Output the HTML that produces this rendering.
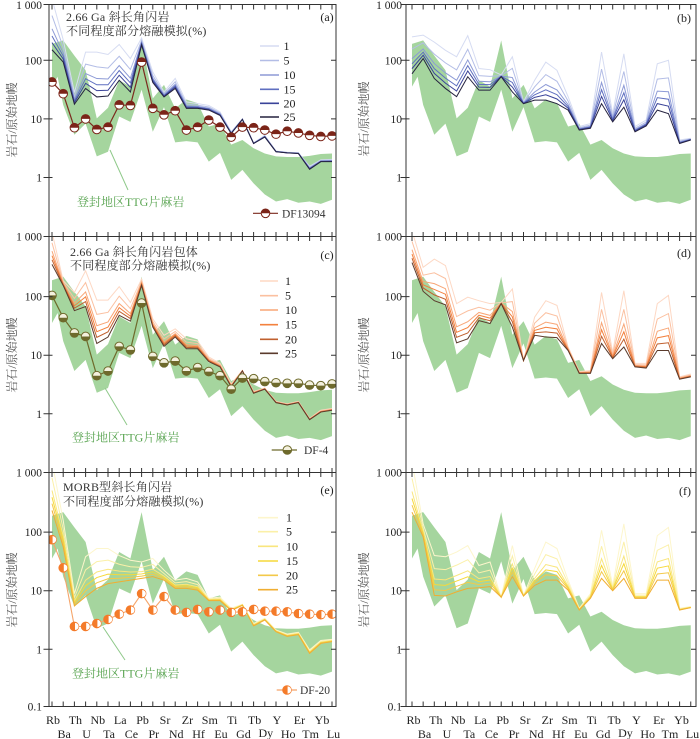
<!DOCTYPE html>
<html><head><meta charset="utf-8">
<style>
html,body{margin:0;padding:0;background:#fff;}
svg{display:block;}
text{font-family:"Liberation Serif","Noto Serif CJK SC",serif;fill:#222;}
.t{font-size:11.5px;}
.x{font-size:12px;text-anchor:middle;}
.ttl{font-size:12px;fill:#333;letter-spacing:0.2px;}
.yl{font-size:12px;fill:#555;text-anchor:middle;}
.lg{font-size:12px;fill:#333;}
.ttg{font-size:12px;fill:#5aa552;}
.ln{fill:none;vector-effect:non-scaling-stroke;}
</style></head><body>
<svg width="700" height="739" viewBox="0 0 700 739" xmlns="http://www.w3.org/2000/svg">
<defs>
<clipPath id="cA"><rect x="49" y="4.5" width="287" height="232"/></clipPath>
<clipPath id="cC"><rect x="49" y="236.5" width="287" height="236"/></clipPath>
<clipPath id="cE"><rect x="49" y="472.5" width="287" height="234"/></clipPath>
<clipPath id="cB"><rect x="406" y="4.5" width="290" height="232"/></clipPath>
<clipPath id="cD"><rect x="406" y="236.5" width="290" height="236"/></clipPath>
<clipPath id="cF"><rect x="406" y="472.5" width="290" height="234"/></clipPath>
<polygon id="band" fill="#a5d59e" points="0,2.28 1,2.34 2,2.08 3,1.83 4,1.01 5,1.19 6,1.66 7,1.55 8,2.34 9,1.35 10,1.58 11,1.18 12,1.33 13,1.27 14,0.87 15,0.92 16,0.56 17,0.64 18,0.50 19,0.41 20,0.36 21,0.35 22,0.35 23,0.37 24,0.40 25,0.41 25,-0.38 24,-0.45 23,-0.41 22,-0.43 21,-0.37 20,-0.41 19,-0.29 18,-0.1 17,0.13 16,-0.04 15,0.42 14,0.27 13,0.6 12,0.62 11,0.6 10,1.2 9,0.78 8,1.5 7,0.95 6,1.04 5,0.44 4,0.36 3,0.92 2,0.73 1,1.24 0.5,1.72 0,1.55"/>
<g id="pA"><circle r="4.3" fill="#fff" stroke="#7b2418" stroke-width="1"/><path d="M-4.3,0A4.3,4.3 0 0 1 4.3,0Z" fill="#7b2418"/></g>
<g id="pC"><circle r="4.3" fill="#f4f1de" stroke="#6e6a2c" stroke-width="1"/><path d="M-4.3,0A4.3,4.3 0 0 0 4.3,0Z" fill="#6e6a2c"/></g>
<g id="pE"><circle r="4.3" fill="#f47b2a" stroke="#f47b2a" stroke-width="1"/><path d="M0.6,-3.6A3.6,3.6 0 0 1 0.6,3.6Z" fill="#fff"/></g>
<g id="mA" transform="scale(0.0892857,-0.0170648)"><use href="#pA"/></g>
<g id="mC" transform="scale(0.0892857,-0.0170648)"><use href="#pC"/></g>
<g id="mE" transform="scale(0.0892857,-0.0170648)"><use href="#pE"/></g>
</defs>

<!-- ===== Panel a ===== -->
<g clip-path="url(#cA)"><g transform="translate(52,177.5) scale(11.2,-58.6)">
<use href="#band"/>
<polyline id="a1" class="ln" stroke="#d6dcf2" stroke-width="1" points="0,3.05 1,2.35 2,1.45 3,2.14 4,2.14 5,2.10 6,2.27 7,2.03 8,2.38 9,1.80 10,1.46 11,1.69 12,1.29 13,1.26 14,1.23 15,1.12 16,0.78 17,1.0 18,0.59 19,0.72 20,0.45 21,0.43 22,0.42 23,0.19 24,0.3 25,0.31"/>
<polyline id="a25" class="ln" stroke="#25223f" stroke-width="1" points="0,2.18 1,1.97 2,1.25 3,1.52 4,1.375 5,1.39 6,1.66 7,1.46 8,2.26 9,1.62 10,1.375 11,1.52 12,1.18 13,1.18 14,1.15 15,1.06 16,0.75 17,0.99 18,0.58 19,0.69 20,0.44 21,0.42 22,0.41 23,0.14 24,0.27 25,0.27"/>
<polyline class="ln" stroke="#7b2a1e" stroke-width="1.2" points="0,1.63 1,1.43 2,0.85 3,1.0 4,0.82 5,0.86 6,1.24 7,1.23 8,1.97 9,1.18 10,1.07 11,1.14 12,0.81 13,0.86 14,0.98 15,0.86 16,0.69 17,0.86 18,0.85 19,0.81 20,0.74 21,0.79 22,0.76 23,0.72 24,0.70 25,0.71"/>
<use href="#mA" x="0" y="1.63"/><use href="#mA" x="1" y="1.43"/><use href="#mA" x="2" y="0.85"/><use href="#mA" x="3" y="1.0"/><use href="#mA" x="4" y="0.82"/><use href="#mA" x="5" y="0.86"/><use href="#mA" x="6" y="1.24"/><use href="#mA" x="7" y="1.23"/><use href="#mA" x="8" y="1.97"/><use href="#mA" x="9" y="1.18"/><use href="#mA" x="10" y="1.07"/><use href="#mA" x="11" y="1.14"/><use href="#mA" x="12" y="0.81"/><use href="#mA" x="13" y="0.86"/><use href="#mA" x="14" y="0.98"/><use href="#mA" x="15" y="0.86"/><use href="#mA" x="16" y="0.69"/><use href="#mA" x="17" y="0.86"/><use href="#mA" x="18" y="0.85"/><use href="#mA" x="19" y="0.81"/><use href="#mA" x="20" y="0.74"/><use href="#mA" x="21" y="0.79"/><use href="#mA" x="22" y="0.76"/><use href="#mA" x="23" y="0.72"/><use href="#mA" x="24" y="0.70"/><use href="#mA" x="25" y="0.71"/>
</g></g>

<!-- ===== Panel c ===== -->
<g clip-path="url(#cC)"><g transform="translate(52,413.8) scale(11.2,-58.6)">
<use href="#band"/>
<polyline id="c1" class="ln" stroke="#fdd8c4" stroke-width="1" points="0,3.1 1,2.27 2,2.07 3,2.44 4,1.94 5,1.94 6,2.17 7,1.9 8,2.3 9,1.62 10,1.34 11,1.45 12,1.28 13,1.24 14,0.97 15,0.86 16,0.51 17,0.74 18,0.38 19,0.44 20,0.21 21,0.17 22,0.21 23,-0.08 24,0.06 25,0.09"/>
<polyline id="c25" class="ln" stroke="#5b3b2c" stroke-width="1" points="0,2.55 1,2.19 2,1.76 3,1.83 4,1.2 5,1.31 6,1.68 7,1.58 8,2.19 9,1.48 10,1.15 11,1.31 12,1.11 13,1.11 14,0.89 15,0.8 16,0.46 17,0.73 18,0.35 19,0.42 20,0.19 21,0.15 22,0.19 23,-0.1 24,0.03 25,0.06"/>
<polyline class="ln" stroke="#6e6a2c" stroke-width="1.2" points="0,2.02 1,1.64 2,1.38 3,1.32 4,0.65 5,0.73 6,1.15 7,1.09 8,1.89 9,0.98 10,0.87 11,0.9 12,0.73 13,0.79 14,0.72 15,0.65 16,0.42 17,0.61 18,0.6 19,0.55 20,0.53 21,0.52 22,0.52 23,0.49 24,0.48 25,0.51"/>
<use href="#mC" x="0" y="2.02"/><use href="#mC" x="1" y="1.64"/><use href="#mC" x="2" y="1.38"/><use href="#mC" x="3" y="1.32"/><use href="#mC" x="4" y="0.65"/><use href="#mC" x="5" y="0.73"/><use href="#mC" x="6" y="1.15"/><use href="#mC" x="7" y="1.09"/><use href="#mC" x="8" y="1.89"/><use href="#mC" x="9" y="0.98"/><use href="#mC" x="10" y="0.87"/><use href="#mC" x="11" y="0.9"/><use href="#mC" x="12" y="0.73"/><use href="#mC" x="13" y="0.79"/><use href="#mC" x="14" y="0.72"/><use href="#mC" x="15" y="0.65"/><use href="#mC" x="16" y="0.42"/><use href="#mC" x="17" y="0.61"/><use href="#mC" x="18" y="0.6"/><use href="#mC" x="19" y="0.55"/><use href="#mC" x="20" y="0.53"/><use href="#mC" x="21" y="0.52"/><use href="#mC" x="22" y="0.52"/><use href="#mC" x="23" y="0.49"/><use href="#mC" x="24" y="0.48"/><use href="#mC" x="25" y="0.51"/>
</g></g>

<!-- ===== Panel e ===== -->
<g clip-path="url(#cE)"><g transform="translate(52,649.3) scale(11.2,-58.6)">
<use href="#band"/>
<polyline id="e1" class="ln" stroke="#fdf6cc" stroke-width="1" points="0,3.2 1,2.2 2,0.95 3,1.58 4,1.72 5,1.72 6,1.6 7,1.52 8,1.49 9,1.55 10,1.35 11,1.18 12,1.21 13,1.15 14,0.87 15,0.89 16,0.7 17,0.77 18,0.44 19,0.53 20,0.33 21,0.26 22,0.29 23,-0.01 24,0.15 25,0.17"/>
<polyline id="e25" class="ln" stroke="#f0ae32" stroke-width="1" points="0,2.37 1,1.75 2,0.74 3,0.9 4,1.04 5,1.12 6,1.15 7,1.18 8,1.21 9,1.24 10,1.18 11,1.04 12,1.04 13,1.01 14,0.83 15,0.83 16,0.66 17,0.75 18,0.4 19,0.5 20,0.3 21,0.22 22,0.25 23,-0.07 24,0.1 25,0.13"/>
<polyline class="ln" stroke="#f5a56a" stroke-width="1.1" points="0,1.87 1,1.39 2,0.39 3,0.39 4,0.44 5,0.51 6,0.60 7,0.67 8,0.95 9,0.67 10,0.9 11,0.67 12,0.63 13,0.68 14,0.64 15,0.67 16,0.63 17,0.64 18,0.68 19,0.65 20,0.65 21,0.64 22,0.61 23,0.60 24,0.59 25,0.60"/>
<use href="#mE" x="0" y="1.87"/><use href="#mE" x="1" y="1.39"/><use href="#mE" x="2" y="0.39"/><use href="#mE" x="3" y="0.39"/><use href="#mE" x="4" y="0.44"/><use href="#mE" x="5" y="0.51"/><use href="#mE" x="6" y="0.60"/><use href="#mE" x="7" y="0.67"/><use href="#mE" x="8" y="0.95"/><use href="#mE" x="9" y="0.67"/><use href="#mE" x="10" y="0.9"/><use href="#mE" x="11" y="0.67"/><use href="#mE" x="12" y="0.63"/><use href="#mE" x="13" y="0.68"/><use href="#mE" x="14" y="0.64"/><use href="#mE" x="15" y="0.67"/><use href="#mE" x="16" y="0.63"/><use href="#mE" x="17" y="0.64"/><use href="#mE" x="18" y="0.68"/><use href="#mE" x="19" y="0.65"/><use href="#mE" x="20" y="0.65"/><use href="#mE" x="21" y="0.64"/><use href="#mE" x="22" y="0.61"/><use href="#mE" x="23" y="0.60"/><use href="#mE" x="24" y="0.59"/><use href="#mE" x="25" y="0.60"/>
</g></g>

<!-- ===== Panel b ===== -->
<g clip-path="url(#cB)"><g transform="translate(412,177.5) scale(11.15,-58.6)">
<use href="#band"/>
<polyline id="b1" class="ln" stroke="#d6dcf2" stroke-width="1" points="0,2.4 1,2.43 2,2.31 3,2.17 4,2.06 5,2.42 6,1.86 7,1.84 8,1.75 9,2.06 10,1.29 11,1.66 12,1.97 13,1.83 14,1.38 15,0.87 16,0.92 17,2.14 18,1.09 19,2.11 20,0.87 21,0.98 22,1.94 23,2.0 24,0.64 25,0.67"/>
<polyline id="b25" class="ln" stroke="#25223f" stroke-width="1" points="0,1.77 1,2.03 2,1.69 3,1.52 4,1.38 5,1.72 6,1.49 7,1.49 8,1.72 9,1.46 10,1.26 11,1.32 12,1.32 13,1.26 14,1.15 15,0.81 16,0.84 17,1.26 18,0.95 19,1.2 20,0.78 21,0.88 22,1.15 23,1.09 24,0.58 25,0.64"/>
</g></g>

<!-- ===== Panel d ===== -->
<g clip-path="url(#cD)"><g transform="translate(412,413.8) scale(11.15,-58.6)">
<use href="#band"/>
<polyline id="d1" class="ln" stroke="#fdd8c4" stroke-width="1" points="0,3.12 1,2.5 2,2.64 3,2.53 4,1.88 5,1.99 6,1.93 7,1.88 8,1.9 9,2.13 10,0.91 11,1.65 12,1.93 13,1.85 14,1.14 15,0.72 16,0.74 17,2.07 18,1.05 19,2.1 20,0.86 21,0.86 22,1.88 23,2.02 24,0.63 25,0.68"/>
<polyline id="d25" class="ln" stroke="#5b3b2c" stroke-width="1" points="0,2.58 1,2.09 2,1.93 3,1.86 4,1.21 5,1.28 6,1.59 7,1.54 8,1.88 9,1.48 10,0.91 11,1.34 12,1.31 13,1.30 14,1.08 15,0.69 16,0.69 17,1.2 18,0.94 19,1.14 20,0.8 21,0.78 22,1.08 23,1.08 24,0.59 25,0.63"/>
</g></g>

<!-- ===== Panel f ===== -->
<g clip-path="url(#cF)"><g transform="translate(412,649.3) scale(11.15,-58.6)">
<use href="#band"/>
<polyline id="f1" class="ln" stroke="#fdf6cc" stroke-width="1" points="0,3.2 1,2.14 2,1.6 3,1.58 4,1.66 5,1.77 6,1.43 7,1.49 8,0.89 9,1.77 10,0.92 11,1.38 12,1.83 13,1.72 14,1.18 15,0.7 16,0.95 17,2.03 18,1.09 19,2.14 20,0.95 21,0.95 22,1.94 23,2.08 24,0.7 25,0.73"/>
<polyline id="f25" class="ln" stroke="#f0ae32" stroke-width="1" points="0,2.34 1,1.92 2,0.92 3,0.91 4,0.98 5,1.04 6,1.05 7,1.07 8,0.89 9,1.24 10,0.91 11,1.09 12,1.18 13,1.18 14,1.01 15,0.67 16,0.87 17,1.21 18,1.0 19,1.21 20,0.87 21,0.87 22,1.18 23,1.18 24,0.67 25,0.71"/>
</g></g>

<!-- ===== Frames ===== -->
<g fill="none" stroke="#333" stroke-width="1">
<rect x="49" y="4.5" width="287" height="702"/>
<line x1="49" y1="236.5" x2="336" y2="236.5"/>
<line x1="49" y1="472.5" x2="336" y2="472.5"/>
<rect x="406" y="4.5" width="290" height="702"/>
<line x1="406" y1="236.5" x2="696" y2="236.5"/>
<line x1="406" y1="472.5" x2="696" y2="472.5"/>
</g>
<!-- x ticks -->
<g stroke="#333" fill="none">
<line x1="51.5" y1="7" x2="332.6" y2="7" stroke-width="5" stroke-dasharray="1 10.2"/>
<line x1="51.5" y1="236.5" x2="332.6" y2="236.5" stroke-width="9" stroke-dasharray="1 10.2"/>
<line x1="51.5" y1="472.5" x2="332.6" y2="472.5" stroke-width="9" stroke-dasharray="1 10.2"/>
<line x1="51.5" y1="704" x2="332.6" y2="704" stroke-width="5" stroke-dasharray="1 10.2"/>
<line x1="411.5" y1="7" x2="691.3" y2="7" stroke-width="5" stroke-dasharray="1 10.15"/>
<line x1="411.5" y1="236.5" x2="691.3" y2="236.5" stroke-width="9" stroke-dasharray="1 10.15"/>
<line x1="411.5" y1="472.5" x2="691.3" y2="472.5" stroke-width="9" stroke-dasharray="1 10.15"/>
<line x1="411.5" y1="704" x2="691.3" y2="704" stroke-width="5" stroke-dasharray="1 10.15"/>
</g>
<!-- y ticks -->
<g stroke="#333" stroke-width="1">
<path d="M43.5,4.5H52.5M43.5,60.3H52.5M43.5,118.9H52.5M43.5,177.5H52.5M43.5,236.5H52.5M43.5,296.6H52.5M43.5,355.2H52.5M43.5,413.8H52.5M43.5,472.5H52.5M43.5,532.1H52.5M43.5,590.7H52.5M43.5,649.3H52.5M43.5,706.5H52.5"/>
<path d="M331,60.3H336M331,118.9H336M331,177.5H336M331,296.6H336M331,355.2H336M331,413.8H336M331,532.1H336M331,590.7H336M331,649.3H336"/>
<path d="M400.5,4.5H409.5M400.5,60.3H409.5M400.5,118.9H409.5M400.5,177.5H409.5M400.5,236.5H409.5M400.5,296.6H409.5M400.5,355.2H409.5M400.5,413.8H409.5M400.5,472.5H409.5M400.5,532.1H409.5M400.5,590.7H409.5M400.5,649.3H409.5M400.5,706.5H409.5"/>
<path d="M691,60.3H696M691,118.9H696M691,177.5H696M691,296.6H696M691,355.2H696M691,413.8H696M691,532.1H696M691,590.7H696M691,649.3H696"/>
</g>
<!-- y tick labels -->
<g class="t" text-anchor="end">
<text x="42" y="9">1 000</text><text x="42" y="64.5">100</text><text x="42" y="123">10</text><text x="42" y="181.5">1</text>
<text x="42" y="240.5">1 000</text><text x="42" y="300.6">100</text><text x="42" y="359.2">10</text><text x="42" y="417.8">1</text>
<text x="42" y="476.5">1 000</text><text x="42" y="536">100</text><text x="42" y="594.7">10</text><text x="42" y="653.3">1</text><text x="42" y="710.5">0.1</text>
<text x="402" y="9">1 000</text><text x="402" y="64.5">100</text><text x="402" y="123">10</text><text x="402" y="181.5">1</text>
<text x="402" y="240.5">1 000</text><text x="402" y="300.6">100</text><text x="402" y="359.2">10</text><text x="402" y="417.8">1</text>
<text x="402" y="476.5">1 000</text><text x="402" y="536">100</text><text x="402" y="594.7">10</text><text x="402" y="653.3">1</text><text x="402" y="710.5">0.1</text>
</g>
<!-- y axis titles -->
<text class="yl" transform="translate(16,120) rotate(-90)">岩石/原始地幔</text>
<text class="yl" transform="translate(16,355) rotate(-90)">岩石/原始地幔</text>
<text class="yl" transform="translate(16,590) rotate(-90)">岩石/原始地幔</text>
<text class="yl" transform="translate(368,119) rotate(-90)">岩石/原始地幔</text>
<text class="yl" transform="translate(368,355) rotate(-90)">岩石/原始地幔</text>
<text class="yl" transform="translate(368,590) rotate(-90)">岩石/原始地幔</text>

<!-- x labels left -->
<g class="x">
<text x="53" y="724">Rb</text><text x="64.2" y="738">Ba</text><text x="75.4" y="724">Th</text><text x="86.6" y="738">U</text><text x="97.8" y="724">Nb</text><text x="109" y="738">Ta</text><text x="120.2" y="724">La</text><text x="131.4" y="738">Ce</text><text x="142.6" y="724">Pb</text><text x="153.8" y="738">Pr</text><text x="165" y="724">Sr</text><text x="176.2" y="738">Nd</text><text x="187.4" y="724">Zr</text><text x="198.6" y="738">Hf</text><text x="209.8" y="724">Sm</text><text x="221" y="738">Eu</text><text x="232.2" y="724">Ti</text><text x="243.4" y="738">Gd</text><text x="254.6" y="724">Tb</text><text x="265.8" y="737">Dy</text><text x="277" y="724">Y</text><text x="288.2" y="738">Ho</text><text x="299.4" y="724">Er</text><text x="310.6" y="738">Tm</text><text x="322" y="724">Yb</text><text x="333.5" y="738">Lu</text>
</g>
<!-- x labels right -->
<g class="x">
<text x="413.5" y="724">Rb</text><text x="424.6" y="738">Ba</text><text x="435.8" y="724">Th</text><text x="447" y="738">U</text><text x="458.1" y="724">Nb</text><text x="469.3" y="738">Ta</text><text x="480.4" y="724">La</text><text x="491.6" y="738">Ce</text><text x="502.7" y="724">Pb</text><text x="513.9" y="738">Pr</text><text x="525" y="724">Sr</text><text x="536.2" y="738">Nd</text><text x="547.3" y="724">Zr</text><text x="558.5" y="738">Hf</text><text x="569.6" y="724">Sm</text><text x="580.8" y="738">Eu</text><text x="591.9" y="724">Ti</text><text x="603.1" y="738">Gd</text><text x="614.2" y="724">Tb</text><text x="625.4" y="737">Dy</text><text x="636.5" y="724">Y</text><text x="647.7" y="738">Ho</text><text x="658.8" y="724">Er</text><text x="670" y="738">Tm</text><text x="681.5" y="724">Yb</text><text x="692.5" y="738">Lu</text>
</g>

<!-- panel letters -->
<g class="lg" text-anchor="middle">
<text x="327" y="21">(a)</text><text x="327" y="259">(c)</text><text x="327" y="494">(e)</text>
<text x="684" y="22">(b)</text><text x="684" y="257">(d)</text><text x="685" y="495">(f)</text>
</g>

<!-- titles -->
<text class="ttl" x="66" y="21">2.66 Ga 斜长角闪岩</text>
<text class="ttl" x="66" y="35">不同程度部分熔融模拟(%)</text>
<text class="ttl" x="70" y="256">2.66 Ga 斜长角闪岩包体</text>
<text class="ttl" x="70" y="269.5">不同程度部分熔融模拟(%)</text>
<text class="ttl" x="63" y="491">MORB型斜长角闪岩</text>
<text class="ttl" x="63" y="505.5">不同程度部分熔融模拟(%)</text>

<!-- TTG labels -->
<g stroke="#8fc98a" stroke-width="1">
<line x1="110" y1="150" x2="128" y2="190"/>
<line x1="105" y1="388" x2="127" y2="425"/>
<line x1="103" y1="627" x2="125" y2="660"/>
</g>
<text class="ttg" x="77" y="206">登封地区TTG片麻岩</text>
<text class="ttg" x="72" y="441.5">登封地区TTG片麻岩</text>
<text class="ttg" x="72" y="677.5">登封地区TTG片麻岩</text>

<!-- legends a -->
<g stroke-width="1.6">
<line x1="260" y1="46" x2="279" y2="46" stroke="#d6dcf2"/>
<line x1="260" y1="60.5" x2="279" y2="60.5" stroke="#b3bde6"/>
<line x1="260" y1="75" x2="279" y2="75" stroke="#8d9ad6"/>
<line x1="260" y1="89.3" x2="279" y2="89.3" stroke="#5f6fc0"/>
<line x1="260" y1="103.3" x2="279" y2="103.3" stroke="#3a4399"/>
<line x1="260" y1="117" x2="279" y2="117" stroke="#25223f"/>
<line x1="260" y1="281" x2="278" y2="281" stroke="#fdd8c4"/>
<line x1="260" y1="295.7" x2="278" y2="295.7" stroke="#fbc0a0"/>
<line x1="260" y1="310" x2="278" y2="310" stroke="#f8a677"/>
<line x1="260" y1="324.7" x2="278" y2="324.7" stroke="#f3813e"/>
<line x1="260" y1="339.3" x2="278" y2="339.3" stroke="#c0602f"/>
<line x1="260" y1="353.3" x2="278" y2="353.3" stroke="#5b3b2c"/>
<line x1="258" y1="517.7" x2="278" y2="517.7" stroke="#fdf6cc"/>
<line x1="258" y1="531.7" x2="278" y2="531.7" stroke="#fbf0a8"/>
<line x1="258" y1="546.3" x2="278" y2="546.3" stroke="#f9e67e"/>
<line x1="258" y1="561" x2="278" y2="561" stroke="#f6d93a"/>
<line x1="258" y1="575.3" x2="278" y2="575.3" stroke="#f3c94a"/>
<line x1="258" y1="589.7" x2="278" y2="589.7" stroke="#f0ae32"/>
</g>
<g class="lg">
<text x="283.5" y="50">1</text><text x="283.5" y="64.5">5</text><text x="283.5" y="79">10</text><text x="283.5" y="93.3">15</text><text x="283.5" y="107.3">20</text><text x="283.5" y="121">25</text>
<text x="285" y="285">1</text><text x="285" y="299.7">5</text><text x="285" y="314">10</text><text x="285" y="328.7">15</text><text x="285" y="343.3">20</text><text x="285" y="357.3">25</text>
<text x="286" y="521.7">1</text><text x="286" y="535.7">5</text><text x="286" y="550.3">10</text><text x="286" y="565">15</text><text x="286" y="579.3">20</text><text x="286" y="593.7">25</text>
</g>
<!-- sample legends -->
<line x1="253" y1="213.3" x2="278" y2="213.3" stroke="#7b2a1e" stroke-width="1.2"/>
<use href="#pA" x="265.5" y="213.3"/>
<text class="lg" x="282" y="217.5" style="font-size:11.5px">DF13094</text>
<line x1="271.7" y1="450" x2="297" y2="450" stroke="#6e6a2c" stroke-width="1.2"/>
<use href="#pC" x="287.3" y="450"/>
<text class="lg" x="304" y="454" style="font-size:11.5px">DF-4</text>
<path d="M276.7,690H283M291,690H297" stroke="#f5a56a" stroke-width="1.2"/>
<use href="#pE" x="287" y="690"/>
<text class="lg" x="300" y="694" style="font-size:11.5px">DF-20</text>
</svg>
<script>
(function(){
var cols={b:['#d6dcf2','#b3bde6','#8d9ad6','#5f6fc0','#3a4399','#25223f'],o:['#fdd8c4','#fbc0a0','#f8a677','#f3813e','#c0602f','#5b3b2c'],y:['#fdf6cc','#fbf0a8','#f9e67e','#f6d93a','#f3c94a','#f0ae32']};
var W=[0.67,0.41,0.27,0.14];
function parse(el){return el.getAttribute('points').trim().split(/\s+/).map(function(s){return s.split(',').map(Number);});}
['a','b','c','d','e','f'].forEach(function(p){
 var l1=document.getElementById(p+'1'),l25=document.getElementById(p+'25');
 if(!l1||!l25)return;
 var A=parse(l1),B=parse(l25);
 var c=(p=='a'||p=='b')?cols.b:((p=='c'||p=='d')?cols.o:cols.y);
 W.forEach(function(w,k){
  var pts=B.map(function(b,i){return b[0]+','+(b[1]+w*(A[i][1]-b[1])).toFixed(3);}).join(' ');
  var e=document.createElementNS('http://www.w3.org/2000/svg','polyline');
  e.setAttribute('points',pts);e.setAttribute('fill','none');e.setAttribute('stroke',c[k+1]);
  e.setAttribute('stroke-width','1');e.setAttribute('vector-effect','non-scaling-stroke');
  l25.parentNode.insertBefore(e,l25);
 });
});
})();
</script>
</body></html>
